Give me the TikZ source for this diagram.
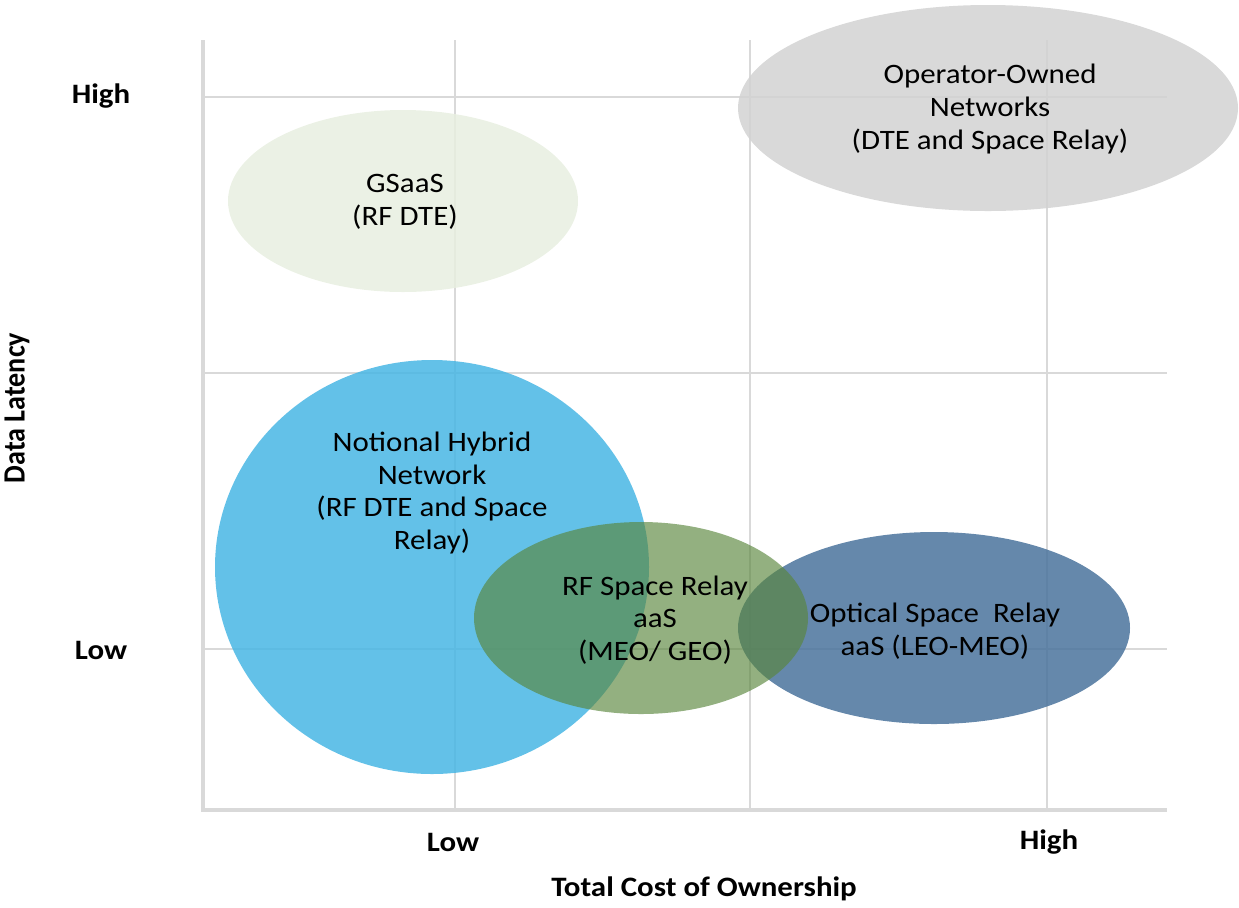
\documentclass[tikz,border=0pt]{standalone}
\usepackage{fontspec}
\setmainfont{Carlito}[FakeStretch=1.1]
\newfontfamily\sidefont{Carlito}
\definecolor{gridgray}{RGB}{217,217,217}
\definecolor{paleolive}{RGB}{232,239,224}
\definecolor{cloudgray}{RGB}{210,210,210}
\definecolor{skyblue}{RGB}{72,182,228}
\definecolor{steelblue}{RGB}{74,115,156}
\definecolor{olivegreen}{RGB}{89,134,60}

\begin{document}
\begin{tikzpicture}[x=0.02cm,y=-0.02cm,
  gridline/.style={gridgray,line width=0.85pt},
  axisline/.style={gridgray,line width=2.3pt},
  blob/.style={fill opacity=0.85},
  lbl/.style={align=center,font=\fontsize{16}{18.6}\selectfont,inner sep=0pt},
  axlbl/.style={font=\fontsize{16}{18}\selectfont\bfseries,inner sep=0pt}]
  \useasboundingbox (0,0) rectangle (1239,907);

  % background grid of the cost/latency plane
  \foreach \y in {97,373,649}
    \draw[gridline] (205,\y) -- (1167,\y);
  \foreach \x in {455,750,1047}
    \draw[gridline] (\x,40) -- (\x,810);
  \draw[axisline] (203,40) -- (203,810) -- (1167,810);

  % axis labels
  \node[axlbl] (yhi) at (101,96) {High};
  \node[axlbl] (ylo) at (101,650) {Low};
  \node[axlbl] (xlo) at (453,842) {Low};
  \node[axlbl] (xhi) at (1049,842) {High};
  \node[axlbl] (xtitle) at (704,889) {Total Cost of Ownership};
  \node[axlbl,rotate=90] (ytitle) at (17,408)
    {\scalebox{1}[1.1]{\sidefont\bfseries Data Latency}};

  % service models, back to front
  \fill[paleolive,blob] (403,201) ellipse (175 and 91);
  \node[lbl] (gsaas) at (405,202) {GSaaS\\(RF DTE)};

  \fill[cloudgray,blob] (988,108) ellipse (250 and 103);
  \node[lbl] (owned) at (990,109) {Operator-Owned\\Networks\\(DTE and Space Relay)};

  \fill[skyblue,blob] (432,567) ellipse (217 and 207);
  \node[lbl] (hybrid) at (432,493) {Notional Hybrid\\Network\\(RF DTE and Space\\Relay)};

  \fill[steelblue,blob] (934,628) ellipse (196 and 96);
  \node[lbl] (optical) at (935,631) {Optical Space~ Relay\\aaS (LEO-MEO)};

  \fill[olivegreen,fill opacity=0.65] (641,618) ellipse (167 and 96);
  \node[lbl] (rfrelay) at (655,620) {RF Space Relay\\aaS\\(MEO/ GEO)};
\end{tikzpicture}
\end{document}
